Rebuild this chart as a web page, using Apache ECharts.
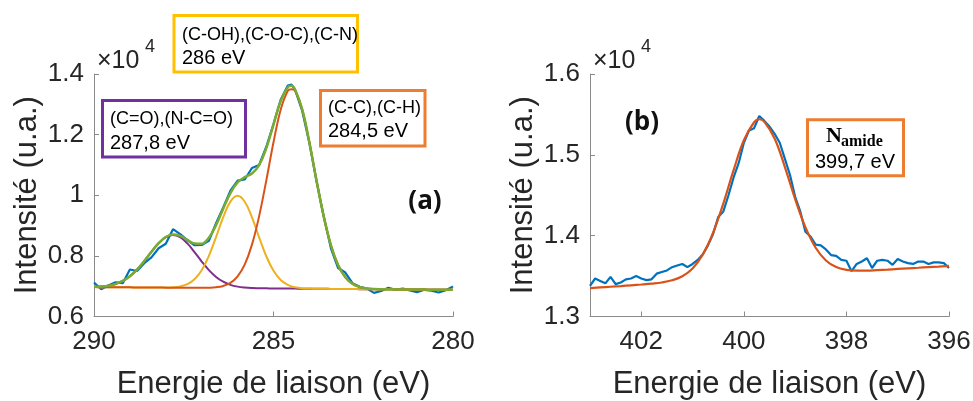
<!DOCTYPE html>
<html><head><meta charset="utf-8">
<script src="https://cdn.jsdelivr.net/npm/echarts@6/dist/echarts.min.js"></script>
<style>html,body{margin:0;padding:0;background:#fff}#c{width:973px;height:401px}</style>
</head><body><div id="c"></div>
<script>
// ---------- Panel (a): C 1s ----------
const energyA = [290.0,289.8,289.6,289.4,289.2,289.0,288.8,288.6,288.4,288.2,288.0,287.8,287.6,287.4,287.2,287.0,286.8,286.6,286.4,286.2,286.0,285.8,285.6,285.4,285.2,285.0,284.8,284.6,284.5,284.4,284.2,284.0,283.8,283.6,283.4,283.2,283.0,282.8,282.6,282.4,282.2,282.0,281.8,281.6,281.4,281.2,281.0,280.8,280.6,280.4,280.2,280.0];
const measuredA = [7120,6900,7020,7130,7100,7550,7500,7760,7950,8250,8400,8880,8720,8520,8350,8360,8500,9080,9600,10150,10480,10520,10900,11000,11600,12350,13150,13620,13650,13480,12780,11720,10450,9300,8250,7600,7450,7100,6980,6920,6780,6840,6950,6880,6920,6860,6800,6880,6850,6790,6870,6990];
const peakCO = [6979,6991,7018,7074,7172,7328,7549,7828,8135,8418,8618,8690,8614,8411,8124,7814,7531,7306,7147,7045,6986,6955,6939,6932,6928,6925,6923,6921,6921,6920,6918,6916,6914,6912,6911,6909,6907,6905,6903,6902,6900,6898,6896,6894,6893,6891,6889,6887,6885,6884,6882,6880];
const peakCOH = [6970,6968,6966,6965,6963,6961,6959,6957,6956,6955,6956,6964,6992,7066,7228,7527,8000,8621,9279,9791,9984,9787,9271,8611,7986,7509,7206,7040,6995,6964,6932,6920,6915,6912,6911,6909,6907,6905,6903,6902,6900,6898,6896,6894,6893,6891,6889,6887,6885,6884,6882,6880];
const peakCC = [6970,6968,6966,6965,6963,6961,6959,6957,6956,6954,6952,6950,6948,6947,6946,6945,6949,6965,7008,7109,7323,7719,8370,9311,10492,11749,12824,13448,13500,13447,12819,11740,10479,9294,8351,7696,7296,7078,6973,6928,6908,6900,6897,6894,6893,6891,6889,6887,6885,6884,6882,6880];
const envelopeA = [6979,6991,7018,7074,7172,7328,7549,7828,8135,8419,8622,8704,8658,8530,8408,8400,8598,9014,9558,10073,10425,10597,10720,10996,11552,12333,13107,13567,13610,13491,12833,11744,10480,9294,8351,7696,7296,7078,6973,6928,6908,6900,6897,6894,6893,6891,6889,6887,6885,6884,6882,6880];

// ---------- Panel (b): N 1s ----------
const energyB = [403.0,402.9,402.8,402.7,402.6,402.5,402.4,402.3,402.2,402.1,402.0,401.9,401.8,401.7,401.6,401.5,401.4,401.3,401.2,401.1,401.0,400.9,400.8,400.7,400.6,400.5,400.4,400.3,400.2,400.1,400.0,399.9,399.8,399.7,399.6,399.5,399.4,399.3,399.2,399.1,399.0,398.9,398.8,398.7,398.6,398.5,398.4,398.3,398.2,398.1,398.0,397.9,397.8,397.7,397.6,397.5,397.4,397.3,397.2,397.1,397.0,396.9,396.8,396.7,396.6,396.5,396.4,396.3,396.2,396.1,396.0];
const measuredB = [13380,13470,13440,13410,13490,13400,13420,13460,13470,13500,13470,13450,13460,13530,13550,13570,13610,13630,13650,13610,13650,13700,13770,13880,14020,14230,14300,14500,14720,14900,15150,15300,15330,15480,15420,15350,15260,15150,14950,14750,14480,14300,14050,13990,13890,13880,13830,13760,13750,13700,13690,13560,13650,13680,13720,13600,13690,13700,13690,13640,13710,13680,13660,13650,13680,13680,13650,13670,13670,13660,13600];
const energyFitB = [403.0,402.8,402.6,402.4,402.2,402.0,401.8,401.6,401.4,401.2,401.0,400.8,400.6,400.4,400.2,400.0,399.8,399.7,399.6,399.4,399.2,399.0,398.8,398.6,398.4,398.2,398.0,397.8,397.6,397.4,397.2,397.0,396.8,396.6,396.4,396.2,396.0];
const fitB = [13350,13360,13368,13376,13386,13396,13407,13421,13448,13497,13594,13767,14036,14400,14811,15180,15403,15440,15410,15203,14849,14453,14105,13850,13693,13611,13577,13567,13568,13574,13580,13588,13596,13603,13611,13618,13626];

// ---------- Axis ticks / texts ----------
const xTicksA = {min: 280, max: 290, step: 5};
const yTicksA = {min: 6000, max: 14000, step: 2000};
const xTicksB = {min: 396, max: 403, step: 2};
const yTicksB = {min: 13000, max: 16000, step: 1000};
const xTitle = 'Energie de liaison (eV)';
const yTitle = 'Intensité (u.a.)';

const C = {blue:'#0072BD', orange:'#D95319', yellow:'#EDB120', purple:'#7E2F8E', green:'#77AC30'};
const FONT = 'Liberation Sans, Arial, sans-serif';
const axisGrey = '#8a8a8a';
const textCol = '#262626';

function pairs(xs, ys){ return xs.map((x,i)=>[x, ys[i]]); }

function xAxis(idx, t, fmt){
  return {
    type:'value', gridIndex: idx, min:t.min, max:t.max, interval:t.step, inverse:true,
    axisLine:{show:true, onZero:false, lineStyle:{color:axisGrey, width:1}},
    axisTick:{show:true, inside:true, length:5, lineStyle:{color:axisGrey}},
    axisLabel:{fontSize:26, color:textCol, fontFamily:FONT, margin:12, formatter:fmt},
    splitLine:{show:false},
    name:xTitle, nameLocation:'middle', nameGap:52,
    nameTextStyle:{fontSize:31, color:textCol, fontFamily:FONT}
  };
}
function yAxis(idx, t){
  return {
    type:'value', gridIndex: idx, min:t.min, max:t.max, interval:t.step,
    axisLine:{show:true, lineStyle:{color:axisGrey, width:1}},
    axisTick:{show:true, inside:true, length:5, lineStyle:{color:axisGrey}},
    axisLabel:{fontSize:26, color:textCol, fontFamily:FONT, margin:10, formatter:v=>String(v/10000)},
    splitLine:{show:false},
    name:yTitle, nameLocation:'middle', nameGap:51,
    nameTextStyle:{fontSize:31, color:textCol, fontFamily:FONT}
  };
}
function line(xi, data, color, w){
  return {type:'line', xAxisIndex:xi, yAxisIndex:xi, data:data, showSymbol:false, symbol:'none',
    smooth: false, lineStyle:{color:color, width:w}, itemStyle:{color:color}, z:2};
}
function fitLine(xi, data, color, w){
  const s = line(xi, data, color, w); s.smooth = 0.4; return s;
}

function txt(x, y, s, size, opts){
  opts = opts || {};
  return {type:'text', x:x, y:y, z:100, style:{text:s, fontSize:size, fontFamily:opts.family||FONT,
    fontWeight:opts.weight||'normal', fill:opts.color||'#000', align:opts.align||'left', verticalAlign:'middle'}};
}
function box(x, y, w, h, color){
  return {type:'rect', z:99, shape:{x:x, y:y, width:w, height:h}, style:{fill:'#fff', stroke:color, lineWidth:3}};
}

const chart = echarts.init(document.getElementById('c'), null, {renderer:'canvas'});
chart.setOption({
  animation:false,
  backgroundColor:'#fff',
  grid:[
    {left:94, top:74, width:359, height:242.5, containLabel:false, outerBoundsMode:'none'},
    {left:590, top:74, width:359, height:242.5, containLabel:false, outerBoundsMode:'none'}
  ],
  xAxis:[ xAxis(0, xTicksA, v=>String(v)), xAxis(1, xTicksB, v=> (v % 2 === 0 ? String(v) : '')) ],
  yAxis:[ yAxis(0, yTicksA), yAxis(1, yTicksB) ],
  series:[
    line(0, pairs(energyA, measuredA), C.blue, 2.2),
    fitLine(0, pairs(energyA, peakCO), C.purple, 2),
    fitLine(0, pairs(energyA, peakCOH), C.yellow, 2),
    fitLine(0, pairs(energyA, peakCC), C.orange, 2),
    fitLine(0, pairs(energyA, envelopeA), C.green, 2.5),
    line(1, pairs(energyB, measuredB), C.blue, 2.2),
    fitLine(1, pairs(energyFitB, fitB), C.orange, 2.2)
  ],
  graphic:[
    // x10^4 multipliers
    txt(97, 61, '×10', 25, {color:textCol}),
    txt(145, 47, '4', 18, {color:textCol}),
    txt(593, 61, '×10', 25, {color:textCol}),
    txt(641, 47, '4', 18, {color:textCol}),
    // panel labels
    txt(425, 202, '(a)', 26, {weight:'bold', family:'Open Sans, sans-serif', align:'center', color:'#111'}),
    txt(642, 123, '(b)', 26, {weight:'bold', family:'Open Sans, sans-serif', align:'center', color:'#111'}),
    // annotation boxes (a)
    box(174, 15.5, 183.5, 56.5, '#FFC000'),
    txt(182, 35, '(C-OH),(C-O-C),(C-N)', 18),
    txt(182, 58, '286 eV', 20),
    box(102.5, 100.5, 143, 56.5, '#7030A0'),
    txt(110, 119, '(C=O),(N-C=O)', 18),
    txt(110, 143, '287,8 eV', 20),
    box(320.5, 90.5, 104.5, 55.5, '#ED7D31'),
    txt(328, 108, '(C-C),(C-H)', 18),
    txt(328, 131, '284,5 eV', 20),
    // annotation box (b)
    box(807.5, 119.8, 96, 56, '#ED7D31'),
    txt(826, 136, 'N', 22, {weight:'bold', family:'Liberation Serif, Times New Roman, serif'}),
    txt(841, 142, 'amide', 16, {weight:'bold', family:'Liberation Serif, Times New Roman, serif'}),
    txt(855, 162, '399,7 eV', 20, {align:'center'})
  ]
});
</script>
</body></html>
